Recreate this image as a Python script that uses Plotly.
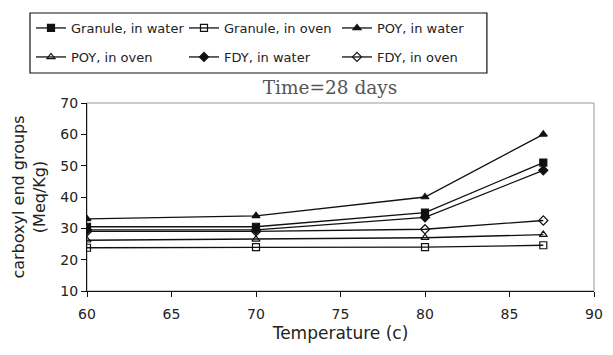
import plotly.graph_objects as go

temperature = [60, 70, 80, 87]
granule_water = [30.5, 30.5, 35.0, 51.0]
granule_oven = [23.8, 24.0, 24.0, 24.6]
poy_water = [33.0, 34.0, 40.0, 60.0]
poy_oven = [26.2, 26.5, 27.0, 28.0]
fdy_water = [29.5, 29.5, 33.5, 48.5]
fdy_oven = [29.0, 29.0, 29.7, 32.5]

series = [
    ("Granule, in water", granule_water, "square", "legend"),
    ("Granule, in oven", granule_oven, "square-open", "legend"),
    ("POY, in water", poy_water, "triangle-up", "legend"),
    ("POY, in oven", poy_oven, "triangle-up-open", "legend2"),
    ("FDY, in water", fdy_water, "diamond", "legend2"),
    ("FDY, in oven", fdy_oven, "diamond-open", "legend2"),
]

fig = go.Figure()
for name, vals, sym, leg in series:
    fig.add_trace(go.Scatter(
        x=temperature, y=vals, name=name, mode="lines+markers", legend=leg,
        line=dict(color="#111111", width=1.3),
        marker=dict(symbol=sym, size=7, color="#111111",
                    line=dict(color="#111111", width=1.2)),
    ))

W, H = 613, 355
L, R, T, B = 87, 10, 103, 64
pw, ph = W - L - R, H - T - B


def px(x):
    return (x - L) / pw


def py(y):
    return (H - B - y) / ph


tick_font = dict(family="DejaVu Sans, sans-serif", size=14, color="#222")
leg_font = dict(family="DejaVu Sans, sans-serif", size=13, color="#222")
leg_common = dict(orientation="h", xanchor="left", yanchor="top",
                  borderwidth=0, bgcolor="rgba(0,0,0,0)", font=leg_font,
                  entrywidth=108, traceorder="normal", itemwidth=30)

fig.update_layout(
    width=W, height=H,
    margin=dict(l=L, r=R, t=T, b=B),
    paper_bgcolor="white", plot_bgcolor="white",
    showlegend=True,
    title=dict(text="Time=28 days", x=330 / W, xanchor="center",
               y=1 - 88 / H, yanchor="middle",
               font=dict(family="DejaVu Serif, serif", size=18.5, color="#555")),
    legend=dict(x=px(30), y=py(13), **leg_common),
    legend2=dict(x=px(30), y=py(42), **leg_common),
    xaxis=dict(
        range=[60, 90], tickvals=[60, 65, 70, 75, 80, 85, 90],
        showgrid=False, zeroline=False, showline=True, linecolor="#111", linewidth=1,
        ticks="outside", ticklen=5, tickcolor="#111", tickfont=tick_font,
        ticklabelstandoff=5,
        title=dict(text="Temperature (c)", standoff=6,
                   font=dict(family="DejaVu Sans, sans-serif", size=17, color="#222")),
    ),
    yaxis=dict(
        range=[10, 70], tickvals=[10, 20, 30, 40, 50, 60, 70],
        showgrid=False, zeroline=False, showline=True, linecolor="#111", linewidth=1,
        ticks="outside", ticklen=5, tickcolor="#111", tickfont=tick_font,
        title=dict(text="carboxyl end groups<br>(Meq/Kg)", standoff=10,
                   font=dict(family="DejaVu Sans, sans-serif", size=16, color="#222")),
    ),
    shapes=[
        dict(type="rect", xref="paper", yref="paper", x0=0, x1=1, y0=0, y1=1,
             line=dict(color="#999", width=1), layer="below"),
        dict(type="rect", xref="paper", yref="paper", x0=px(29), x1=px(494),
             y0=py(73), y1=py(13), line=dict(color="#111", width=1.2), layer="below"),
    ],
)

fig.write_html("out.html")
